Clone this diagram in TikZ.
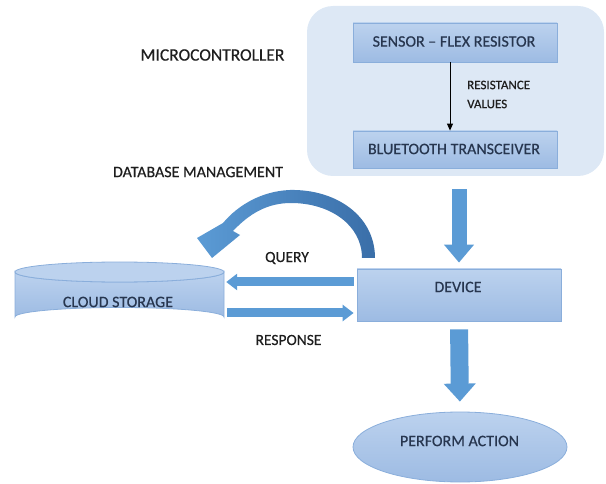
\documentclass[tikz,border=0pt]{standalone}
\usepackage{fontspec}
\setmainfont{Carlito}[FakeBold=0.5]
\usetikzlibrary{arrows.meta,shapes.geometric}

\definecolor{panelfill}{HTML}{DDE8F5}
\definecolor{boxtop}{HTML}{BCD2EE}
\definecolor{boxbot}{HTML}{9DBBE3}
\definecolor{boxline}{HTML}{8AAEDB}
\definecolor{arrowblue}{HTML}{5B9BD5}
\definecolor{arrowdark}{HTML}{3A6EA8}
\definecolor{inktext}{HTML}{27364F}
\definecolor{labeltext}{HTML}{1E1E1E}

\tikzset{
  bluebox/.style={rectangle, draw=boxline, line width=0.8pt, top color=boxtop, bottom color=boxbot,
    text=inktext, font=\fontsize{16}{16}\selectfont, inner sep=0pt},
  boxtext/.style={text=inktext, inner sep=0pt, font=\fontsize{16}{16}\selectfont},
  plainlabel/.style={text=labeltext, inner sep=0pt},
  flatarrow/.style={line width=9pt, color=arrowblue, -{Triangle[width=16pt,length=11pt]}},
  thinarrow/.style={draw=black, line width=0.9pt, -{Triangle[width=6pt,length=7pt]}}
}

\begin{document}
\begin{tikzpicture}[x=1pt,y=-1pt]
\useasboundingbox (0,0) rectangle (606,484);

% microcontroller panel
\fill[panelfill, rounded corners=26pt] (307,6) rectangle (604,176);
\node[plainlabel, font=\fontsize{17.5}{17.5}\selectfont] (mcu) at (212.5,55) {MICROCONTROLLER};

% sensor and transceiver
\node[bluebox, minimum width=204pt, minimum height=39pt] (sensor) at (455,42.5) {};
\node[boxtext] (sensortxt) at (454,41.5) {SENSOR -- FLEX RESISTOR};
\node[bluebox, minimum width=204pt, minimum height=37pt] (bt) at (455,149.5) {};
\node[boxtext] (bttxt) at (454,149) {BLUETOOTH TRANSCEIVER};
\draw[thinarrow] ([xshift=-5pt]sensor.south) -- ([xshift=-5pt]bt.north);
\node[plainlabel, anchor=west, font=\fontsize{13}{13}\selectfont] (resist) at (467,85) {RESISTANCE};
\node[plainlabel, anchor=west, font=\fontsize{13}{13}\selectfont] (values) at (467,104) {VALUES};

% device and action
\node[bluebox, minimum width=204pt, minimum height=52pt] (dev) at (459,295) {};
\node[boxtext] (devtxt) at (458,287) {DEVICE};
\node[ellipse, draw=boxline, line width=0.8pt, top color=boxtop, bottom color=boxbot,
  minimum width=214pt, minimum height=70pt, inner sep=0pt] (act) at (460,447) {};
\node[boxtext] (acttxt) at (459.5,441) {PERFORM ACTION};

% block arrows down
\draw[line width=15pt, color=arrowblue, -{Triangle[width=29pt,length=18pt]}, shorten <=21pt, shorten >=6pt]
  (bt.south -| dev.north) -- (dev.north);
\draw[line width=18pt, color=arrowblue, -{Triangle[width=31pt,length=18pt]}, shorten <=8pt, shorten >=10pt]
  (dev.south) -- (act.north);

% cloud storage cylinder
\coordinate (cyl) at (119.5,295);
\shade[top color=boxtop, bottom color=boxbot, draw=boxline, line width=0.8pt]
  (15,272) -- (15,317) arc[start angle=180, end angle=360, x radius=104.5, y radius=9.5] -- (224,272)
  arc[start angle=0, end angle=180, x radius=104.5, y radius=10] -- cycle;
\draw[boxline, line width=0.8pt, fill=boxtop] (119.5,272) ellipse[x radius=104.5, y radius=10];
\node[minimum width=209pt, minimum height=46pt, inner sep=0pt] (cloud) at (cyl) {};
\node[boxtext] (cloudtxt) at (118,302) {CLOUD STORAGE};

% query / response
\draw[flatarrow, shorten <=3pt, shorten >=2pt] ([yshift=13pt]dev.west) -- ([yshift=13pt]dev.west -| cloud.east);
\draw[flatarrow, shorten <=3pt, shorten >=3pt] ([yshift=-18pt]dev.west -| cloud.east) -- ([yshift=-18pt]dev.west);
\node[plainlabel, font=\fontsize{15.5}{15.5}\selectfont] (query) at (287,258) {QUERY};
\node[plainlabel, font=\fontsize{15.5}{15.5}\selectfont] (resp) at (288.5,340) {RESPONSE};

% database management curved arrow
\node[plainlabel, font=\fontsize{16}{16}\selectfont] (dbm) at (198,172) {DATABASE MANAGEMENT};
\shade[left color=arrowblue, right color=arrowdark]
  (375,258) .. controls (375,215) and (335,189) .. (290,190)
  .. controls (262,191) and (238,205) .. (223,223)
  -- (197,238) -- (212,258) -- (240,235) -- (233,231)
  .. controls (250,213) and (268,203) .. (291,203)
  .. controls (330,203) and (362,225) .. (362,258) -- cycle;
\end{tikzpicture}
\end{document}
